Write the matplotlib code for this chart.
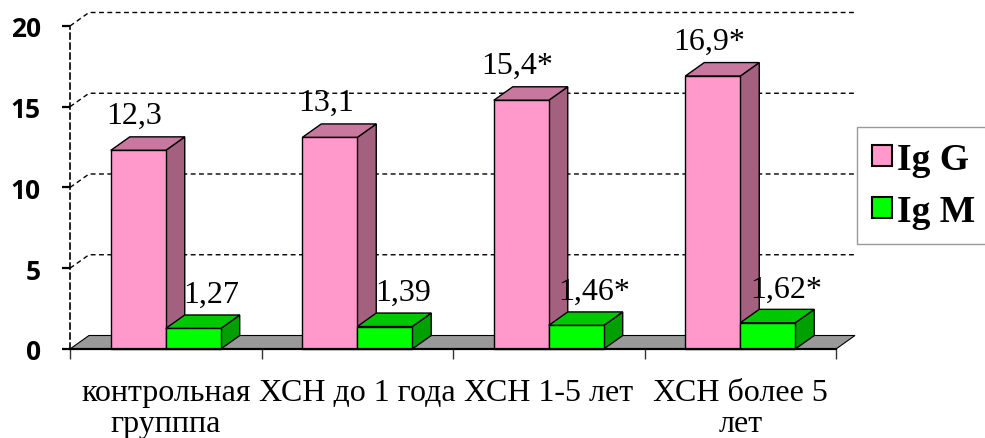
"""Ig G / Ig M по группам ХСН — объёмная гистограмма в стиле Excel."""

import matplotlib
matplotlib.use("Agg")
import matplotlib.pyplot as plt
from matplotlib.patches import Patch, Polygon, Rectangle

# данные
categories = ["контрольная\nгрупппа", "ХСН до 1 года", "ХСН 1-5 лет", "ХСН более 5\nлет"]
igg = [12.3, 13.1, 15.4, 16.9]
igm = [1.27, 1.39, 1.46, 1.62]
igg_sig = [False, False, True, True]
igm_sig = [False, False, True, True]
y_ticks = [0, 5, 10, 15, 20]

# оформление
W, H, DPI = 985, 439, 100
AX_PX = (70, 89, 766, 323)          # left, bottom, width, height in pixels
DEPTH_PX = (19.0, 13.5)             # 3D depth offset
BAR_W = 0.287
SERIES = {
    "Ig G": {"front": "#FF99CC", "top": "#C8789F", "side": "#A3607F"},
    "Ig M": {"front": "#00FF00", "top": "#00C800", "side": "#00A000"},
}
SERIF = "Liberation Serif"

fig = plt.figure(figsize=(W / DPI, H / DPI), dpi=DPI)
ax = fig.add_axes([AX_PX[0] / W, AX_PX[1] / H, AX_PX[2] / W, AX_PX[3] / H])
n = len(categories)
ax.set_xlim(0, n)
ax.set_ylim(y_ticks[0], y_ticks[-1])

dx = DEPTH_PX[0] * n / AX_PX[2]
dy = DEPTH_PX[1] * (y_ticks[-1] - y_ticks[0]) / AX_PX[3]

# стенки: сетка на задней стенке + диагонали на боковой
for v in y_ticks[1:]:
    ax.plot([0, dx, n + dx], [v, v + dy, v + dy], color="black", lw=1.0,
            ls=(0, (3.5, 2.5)), zorder=1, clip_on=False)

# пол
floor = Polygon([(0, 0), (n, 0), (n + dx, dy), (dx, dy)], closed=True,
                facecolor="#999999", edgecolor="black", lw=0.8, zorder=2, clip_on=False)
ax.add_patch(floor)


def draw_bar(x0, h, colors, z):
    x1 = x0 + BAR_W
    kw = dict(edgecolor="black", lw=1.0, clip_on=False, zorder=z)
    ax.add_patch(Polygon([(x1, 0), (x1 + dx, dy), (x1 + dx, h + dy), (x1, h)],
                         closed=True, facecolor=colors["side"], **kw))
    ax.add_patch(Polygon([(x0, h), (x1, h), (x1 + dx, h + dy), (x0 + dx, h + dy)],
                         closed=True, facecolor=colors["top"], **kw))
    ax.add_patch(Rectangle((x0, 0), BAR_W, h, facecolor=colors["front"], **kw))


def fmt(v, digits, star):
    return f"{v:.{digits}f}".replace(".", ",") + ("*" if star else "")


for i in range(n):
    c = i + 0.5
    draw_bar(c - BAR_W, igg[i], SERIES["Ig G"], 3 + 2 * i)
    draw_bar(c, igm[i], SERIES["Ig M"], 4 + 2 * i)
    ax.annotate(fmt(igg[i], 1, igg_sig[i]), (c - BAR_W / 2, igg[i] + dy),
                xytext=(-4, 14), textcoords="offset pixels", ha="center", va="baseline",
                fontsize=23, family=SERIF, zorder=20, annotation_clip=False)
    ax.annotate(fmt(igm[i], 2, igm_sig[i]), (c + BAR_W / 2, igm[i] + dy),
                xytext=(18, 13), textcoords="offset pixels", ha="center", va="baseline",
                fontsize=23, family=SERIF, zorder=20, annotation_clip=False)

# оси
for side in ("top", "right"):
    ax.spines[side].set_visible(False)
ax.spines["left"].set_linestyle((0, (3.5, 2.5)))
ax.spines["left"].set_linewidth(1.2)
ax.spines["left"].set_zorder(2.5)
ax.spines["bottom"].set_linewidth(1.6)
ax.spines["bottom"].set_zorder(30)

ax.set_yticks(y_ticks)
ax.set_yticklabels([str(t) for t in y_ticks], family="Open Sans", fontweight="bold", fontsize=19)
ax.tick_params(axis="y", length=6, width=1.6, pad=15)

ax.set_xticks([i + 0.5 for i in range(n)])
ax.set_xticklabels(categories, family=SERIF, fontsize=23, linespacing=1.08)
ax.set_xticks(range(n + 1), minor=True)
ax.tick_params(axis="x", which="major", length=0, pad=21)
ax.tick_params(axis="x", which="minor", length=7, width=1.0, color="#333333")

handles = [Patch(facecolor=s["front"], edgecolor="black", lw=1.5) for s in SERIES.values()]
leg = fig.legend(handles, list(SERIES.keys()), loc="upper left",
                 bbox_to_anchor=(857 / W, 1 - 128 / H), frameon=True, fancybox=False,
                 prop={"family": SERIF, "weight": "bold", "size": 27},
                 handlelength=0.52, handleheight=0.46, handletextpad=0.15,
                 labelspacing=0.45, borderpad=0.4, borderaxespad=0)
leg.get_frame().set_edgecolor("#808080")
leg.get_frame().set_linewidth(1.0)

fig.savefig("out.png", dpi=DPI)
